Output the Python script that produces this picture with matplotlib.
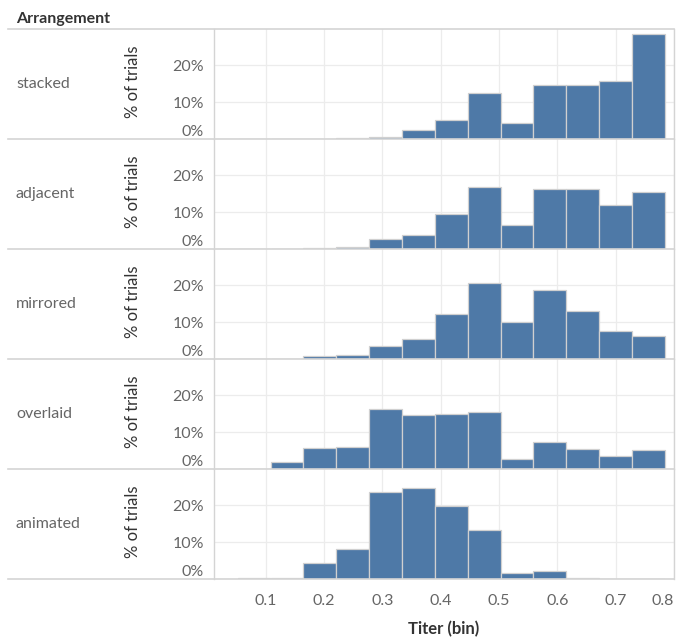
import matplotlib.pyplot as plt
from matplotlib.transforms import blended_transform_factory

plt.rcParams['font.family'] = ['Lato', 'DejaVu Sans']

# bin starts (Titer) and bin width
bin_starts = [0.052, 0.1085, 0.1648, 0.2211, 0.2774, 0.3337, 0.39, 0.4463, 0.5026, 0.5589, 0.6152, 0.6715, 0.7278]
bin_width = 0.0563

arrangements = ['stacked', 'adjacent', 'mirrored', 'overlaid', 'animated']

# % of trials per bin
stacked = [0, 0, 0, 0.2, 0.6, 2.4, 5.2, 12.3, 4.4, 14.6, 14.6, 15.7, 28.2]
adjacent = [0, 0, 0.3, 0.5, 2.6, 3.9, 9.5, 16.6, 6.4, 16.3, 16.3, 11.8, 15.4]
mirrored = [0, 0, 0.7, 1.1, 3.4, 5.5, 12.0, 20.5, 10.0, 18.5, 13.0, 7.6, 6.1]
overlaid = [0, 1.8, 5.6, 6.0, 16.3, 14.5, 14.9, 15.3, 2.6, 7.4, 5.3, 3.5, 5.0]
animated = [0.2, 0.4, 4.3, 8.1, 23.4, 24.4, 19.7, 13.2, 1.6, 2.1, 0.4, 0, 0]
series = [stacked, adjacent, mirrored, overlaid, animated]

yticks = [0, 10, 20]
xticks = [0.1, 0.2, 0.3, 0.4, 0.5, 0.6, 0.7, 0.8]

W, H = 682, 638
fig = plt.figure(figsize=(W / 100, H / 100), dpi=100)

left, right = 214, 674
top0, row_h = 29, 110
line_c = '#d4d4d4'
grid_c = '#ececec'
txt_c = '#666666'

# header
fig.text(16 / W, 1 - 19 / H, 'Arrangement', fontsize=11.5, fontweight='bold',
         color='#333333', va='center', ha='left')
fig.add_artist(plt.Line2D([8 / W, right / W], [1 - top0 / H] * 2, color=line_c, lw=1.2))

axes = []
for i, (name, vals) in enumerate(zip(arrangements, series)):
    top = top0 + i * row_h
    ax = fig.add_axes([left / W, 1 - (top + row_h) / H, (right - left) / W, row_h / H])
    ax.bar(bin_starts, vals, width=bin_width, align='edge', color='#4e79a7',
           edgecolor='#d0d0d0', linewidth=0.9, zorder=3)
    ax.set_xlim(0.0115, 0.8)
    ax.set_ylim(0, 29.65)
    ax.set_xticks(xticks)
    ax.set_yticks(yticks)
    ax.grid(True, color=grid_c, lw=0.9, zorder=0)
    ax.tick_params(length=0, labelleft=False, labelbottom=(i == len(arrangements) - 1),
                   labelsize=11.5, labelcolor=txt_c, pad=11)
    for s in ['top', 'bottom']:
        ax.spines[s].set_visible(False)
    for s in ['left', 'right']:
        ax.spines[s].set_color(line_c)
        ax.spines[s].set_linewidth(1)
    axes.append(ax)

    # y tick labels (bottom one kept inside the pane, like the original)
    tr = blended_transform_factory(ax.transAxes, ax.transData)
    for t in yticks:
        y = t if t > 0 else 2.4
        ax.text(-10 / (right - left), y - 0.6, f'{t}%', transform=tr, ha='right', va='center',
                fontsize=11.5, color=txt_c)

    yc = 1 - (top + row_h / 2) / H
    fig.text(16 / W, yc, name, fontsize=11.5, color=txt_c, ha='left', va='center')
    fig.text(133 / W, yc + 2 / H, '% of trials', fontsize=12, color='#333333',
             rotation=90, ha='center', va='center')
    yb = 1 - (top + row_h) / H
    fig.add_artist(plt.Line2D([8 / W, right / W], [yb, yb], color=line_c, lw=1.2))

bax = axes[-1]
bax.set_xticks(xticks, [f'{v:g}' for v in xticks])
bax.get_xticklabels()[-1].set_horizontalalignment('right')
bax.set_xlabel('Titer (bin)', fontsize=12, fontweight='bold', color='#333333', labelpad=9)

plt.savefig('out.png', dpi=100)
